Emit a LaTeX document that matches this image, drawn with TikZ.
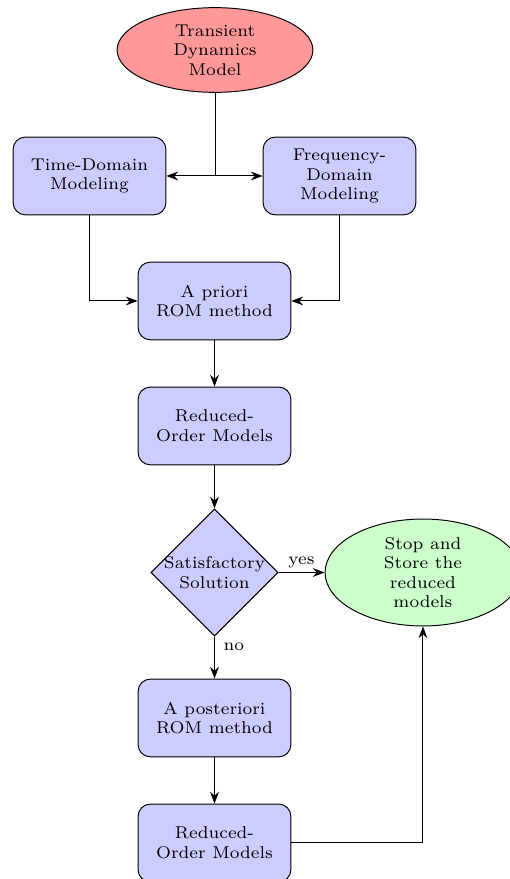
\documentclass[tikz,border=0pt]{standalone}
\usetikzlibrary{arrows.meta,calc,shapes.geometric}

\begin{document}
\begin{tikzpicture}[
  font=\scriptsize,
  >=Stealth,
  block/.style={draw, rectangle, rounded corners=5pt, fill=blue!20, align=center,
                minimum width=2.20cm, minimum height=1.12cm, inner sep=2pt},
  model/.style={draw, ellipse, fill=red!40, align=center,
                minimum width=2.82cm, minimum height=1.22cm, inner sep=0pt},
  stopnode/.style={draw, ellipse, fill=green!20, align=center,
                minimum width=2.82cm, minimum height=1.54cm, inner sep=0pt},
  decide/.style={draw, diamond, fill=blue!20, align=center,
                minimum width=1.78cm, minimum height=1.78cm, inner sep=-0.6pt},
  lbl/.style={inner sep=1.5pt},
  arr/.style={->},
]
  \useasboundingbox (0,0) rectangle (7.344,-12.658);

  \node[model] (tdm) at (3.096,-0.72) {Transient\\Dynamics\\Model};

  \node[block] (time) at (1.289,-2.534) {Time-Domain\\Modeling};
  \node[block] (freq) at (4.889,-2.534) {Frequency-\\Domain\\Modeling};
  \node[block] (apri) at (3.089,-4.334) {A priori\\ROM method};
  \node[block] (rom1) at (3.089,-6.134) {Reduced-\\Order Models};
  \node[decide] (sat) at (3.089,-8.244) {Satisfactory\\Solution};
  \node[stopnode] (stop) at (6.091,-8.244) {Stop and\\Store the\\reduced\\models};
  \node[block] (apost) at (3.089,-10.339) {A posteriori\\ROM method};
  \node[block] (rom2) at (3.089,-12.139) {Reduced-\\Order Models};

  % split of the model into the two modelling branches
  \coordinate (split) at (tdm.south |- time.east);
  \draw (tdm.south) -- (split);
  \draw[arr] (split) -- (time.east);
  \draw[arr] (split) -- (freq.west);

  \draw[arr] (time.south) |- (apri.west);
  \draw[arr] (freq.south) |- (apri.east);
  \draw[arr] (apri) -- (rom1);
  \draw[arr] (rom1) -- (sat);

  \draw[arr] (sat.east) -- node[lbl, above] {yes} (stop.west);
  \draw[arr] (sat.south) -- node[lbl, anchor=west, pos=0.25, xshift=2pt] {no} (apost.north);
  \draw[arr] (apost) -- (rom2);
  \draw[arr] (rom2.east) -| (stop.south);
\end{tikzpicture}
\end{document}
